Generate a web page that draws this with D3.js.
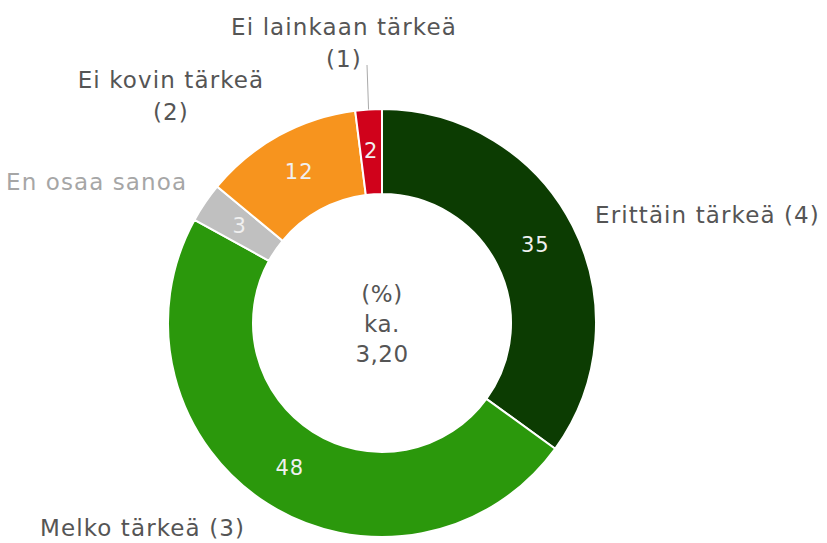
<!DOCTYPE html>
<html>
<head lang="fi">
	<meta charset="UTF-8">
	<title></title>
	<script src="https://cdn.jsdelivr.net/npm/d3@7"></script>
	<style>
		body { margin: 0; background: #fff; }
		text { font-family: "DejaVu Sans", Verdana, sans-serif; }
	</style>
</head>
<body>
<script>

	// data, clockwise from 12 o'clock
	var categories = ["Erittäin tärkeä (4)", "Melko tärkeä (3)", "En osaa sanoa", "Ei kovin tärkeä (2)", "Ei lainkaan tärkeä (1)"];
	var values = [35, 48, 3, 12, 2];
	var centerLines = ["(%)", "ka.", "3,20"];

	var colors = ["#0c3c02", "#2b980c", "#c0c0c0", "#f7941e", "#d0021b"];

	var W = 827, H = 543;
	var cx = 382, cy = 323, outerR = 214, innerR = 129;

	var svg = d3.select('body').append("svg:svg").attr("width", W).attr("height", H);
	var g = svg.append("g").attr("transform", "translate(" + cx + "," + cy + ")");

	var pie = d3.pie().sort(null).value(function (d) { return d; });
	var arcs = pie(values);
	var arc = d3.arc().innerRadius(innerR).outerRadius(outerR);
	var labelArc = d3.arc().innerRadius(172).outerRadius(172);

	g.selectAll("path.slice")
			.data(arcs)
			.enter().append("path")
			.attr("class", "slice")
			.attr("d", arc)
			.style("fill", function (d, i) { return colors[i]; })
			.style("stroke", "#fff")
			.style("stroke-width", 2);

	g.selectAll("text.val")
			.data(arcs)
			.enter().append("text")
			.attr("class", "val")
			.attr("transform", function (d) { return "translate(" + labelArc.centroid(d) + ")"; })
			.attr("text-anchor", "middle")
			.attr("dominant-baseline", "central")
			.style("font-size", "21px")
			.style("letter-spacing", "1px")
			.style("fill", "#f0f0f0")
			.text(function (d) { return d.data; });

	// centre text
	g.selectAll("text.center")
			.data(centerLines)
			.enter().append("text")
			.attr("class", "center")
			.attr("x", 0)
			.attr("y", function (d, i) { return -21 + i * 30; })
			.attr("text-anchor", "middle")
			.style("font-size", "23px")
			.style("letter-spacing", "0.5px")
			.style("fill", "#555")
			.text(function (d) { return d; });

	// outside labels
	var outer = [
		{lines: ["Ei lainkaan tärkeä", "(1)"], x: 344, y: 35, anchor: "middle", fill: "#555"},
		{lines: ["Ei kovin tärkeä", "(2)"], x: 171, y: 88, anchor: "middle", fill: "#555"},
		{lines: ["En osaa sanoa"], x: 6, y: 190, anchor: "start", fill: "#a6a6a6"},
		{lines: ["Erittäin tärkeä (4)"], x: 595, y: 223, anchor: "start", fill: "#555"},
		{lines: ["Melko tärkeä (3)"], x: 40, y: 536, anchor: "start", fill: "#555"}
	];
	outer.forEach(function (o) {
		o.lines.forEach(function (line, i) {
			svg.append("text")
					.attr("x", o.x)
					.attr("y", o.y + i * 32)
					.attr("text-anchor", o.anchor)
					.style("font-size", "23px")
					.style("letter-spacing", "1.1px")
					.style("fill", o.fill)
					.text(line);
		});
	});

	// leader line for the small red slice
	var redMid = (arcs[4].startAngle + arcs[4].endAngle) / 2;
	svg.append("line")
			.attr("x1", 367).attr("y1", 65)
			.attr("x2", cx + Math.sin(redMid) * outerR).attr("y2", cy - Math.cos(redMid) * outerR)
			.style("stroke", "#aaa")
			.style("stroke-width", 1);

</script>
</body>
</html>
